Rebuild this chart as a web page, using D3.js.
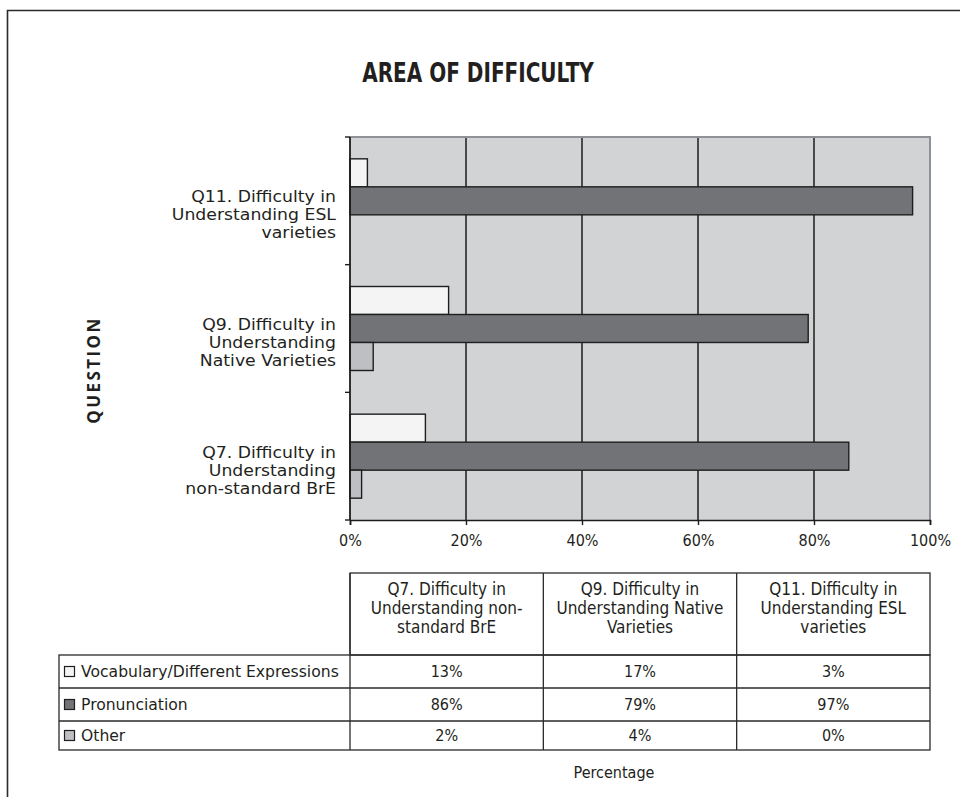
<!DOCTYPE html>
<html>
<head>
<meta charset="utf-8">
<script src="https://cdn.jsdelivr.net/npm/d3@7"></script>
<style>
  html, body { margin: 0; padding: 0; background: #ffffff; }
  svg { display: block; }
  .narrow { font-family: "Liberation Sans Narrow", "Arial Narrow", "DejaVu Sans Condensed", sans-serif; }
  .human { font-family: "DejaVu Sans", sans-serif; }
  .bold-human { font-family: "Open Sans", Lato, sans-serif; }
</style>
</head>
<body>
<svg id="chart" width="960" height="797"></svg>
<script>
// Questions, listed bottom-to-top as drawn on the chart (Q11 at top)
const questions = ["Q7", "Q9", "Q11"];
const axisLabelLines = {
  Q7: ["Q7. Difficulty in", "Understanding", "non-standard BrE"],
  Q9: ["Q9. Difficulty in", "Understanding", "Native Varieties"],
  Q11: ["Q11. Difficulty in", "Understanding ESL", "varieties"]
};
const headerLines = {
  Q7: ["Q7. Difficulty in", "Understanding non-", "standard BrE"],
  Q9: ["Q9. Difficulty in", "Understanding Native", "Varieties"],
  Q11: ["Q11. Difficulty in", "Understanding ESL", "varieties"]
};

// Percentages per question (Q7, Q9, Q11)
const seriesNames = ["Vocabulary/Different Expressions", "Pronunciation", "Other"];
const vocabulary = [13, 17, 3];
const pronunciation = [86, 79, 97];
const other = [2, 4, 0];
const seriesValues = [vocabulary, pronunciation, other];
const seriesColors = ["#f4f4f4", "#727377", "#bebfc3"];

const xTicks = [0, 20, 40, 60, 80, 100];

const svg = d3.select("#chart");

// outer frame
svg.append("path")
  .attr("d", "M7.5,1000 L7.5,10.5 L1000,10.5")
  .attr("fill", "none").attr("stroke", "#2a2a2a").attr("stroke-width", 1.6);

// title (condensed horizontally)
svg.append("text")
  .attr("class", "narrow")
  .attr("transform", "translate(478,82) scale(0.89,1.04)")
  .attr("text-anchor", "middle")
  .attr("font-weight", "bold")
  .attr("font-size", 25)
  .attr("fill", "#231f20")
  .text("AREA OF DIFFICULTY");

const plot = { left: 350, right: 930, top: 137, bottom: 520 };

const x = d3.scaleLinear().domain([0, 100]).range([plot.left, plot.right]);
const y = d3.scaleBand()
  .domain(questions.slice().reverse())
  .range([plot.top, plot.bottom])
  .paddingInner(0.342)
  .paddingOuter(0.171);
const ySub = d3.scaleBand().domain(d3.range(seriesNames.length)).range([0, y.bandwidth()]);

// plot background
svg.append("rect")
  .attr("x", plot.left).attr("y", plot.top)
  .attr("width", plot.right - plot.left).attr("height", plot.bottom - plot.top)
  .attr("fill", "#d2d3d5");

// vertical gridlines
svg.append("g").selectAll("line")
  .data(xTicks.filter(d => d > 0 && d < 100))
  .join("line")
  .attr("x1", d => x(d)).attr("x2", d => x(d))
  .attr("y1", plot.top).attr("y2", plot.bottom)
  .attr("stroke", "#1c1c1c").attr("stroke-width", 1.5);

// plot border (top / right)
svg.append("path")
  .attr("d", `M${plot.left},${plot.top} L${plot.right},${plot.top} L${plot.right},${plot.bottom}`)
  .attr("fill", "none").attr("stroke", "#8e9196").attr("stroke-width", 2);

// bars
const barData = [];
questions.forEach((q, qi) => {
  seriesValues.forEach((vals, si) => {
    barData.push({ q, si, v: vals[qi] });
  });
});
svg.append("g").selectAll("rect")
  .data(barData.filter(d => d.v > 0))
  .join("rect")
  .attr("x", x(0))
  .attr("y", d => y(d.q) + ySub(d.si))
  .attr("width", d => x(d.v) - x(0))
  .attr("height", ySub.bandwidth())
  .attr("fill", d => seriesColors[d.si])
  .attr("stroke", "#1e1e1e").attr("stroke-width", 1.4);

// x axis
const xAxis = svg.append("g")
  .attr("transform", `translate(0,${plot.bottom})`)
  .call(d3.axisBottom(x).tickValues(xTicks).tickFormat(d => d + "%").tickSize(5).tickPadding(10));
xAxis.select(".domain").attr("stroke", "#1c1c1c").attr("stroke-width", 1.6);
xAxis.selectAll(".tick line").attr("stroke", "#1c1c1c").attr("stroke-width", 1.4);
xAxis.selectAll(".tick text")
  .attr("class", "narrow")
  .attr("font-size", 16).attr("fill", "#231f20");

// y axis line and category-boundary ticks
svg.append("line")
  .attr("x1", plot.left).attr("x2", plot.left)
  .attr("y1", plot.top).attr("y2", plot.bottom)
  .attr("stroke", "#1c1c1c").attr("stroke-width", 1.8);
const boundaries = y.domain().map(q => y(q) - y.step() * y.paddingInner() / 2)
  .concat([plot.bottom]);
svg.append("g").selectAll("line")
  .data(boundaries)
  .join("line")
  .attr("x1", plot.left - 5).attr("x2", plot.left)
  .attr("y1", d => d).attr("y2", d => d)
  .attr("stroke", "#1c1c1c").attr("stroke-width", 1.4);

// category labels (right-aligned, three lines, slightly widened)
const catG = svg.append("g").attr("class", "human");
questions.forEach(q => {
  const lines = axisLabelLines[q];
  const cy = y(q) + y.bandwidth() / 2 + 14;
  const lh = 18;
  catG.append("text")
    .attr("transform", `translate(336,${cy}) scale(1.08,1)`)
    .attr("text-anchor", "end")
    .attr("font-size", 16)
    .attr("fill", "#231f20")
    .selectAll("tspan")
    .data(lines)
    .join("tspan")
    .attr("x", 0)
    .attr("y", (d, i) => (i - (lines.length - 1) / 2) * lh + 5.5)
    .text(d => d);
});

// axis title
svg.append("text")
  .attr("class", "bold-human")
  .attr("transform", "translate(100,370) rotate(-90)")
  .attr("text-anchor", "middle")
  .attr("font-weight", "bold")
  .attr("font-size", 17)
  .attr("letter-spacing", 2.4)
  .attr("fill", "#231f20")
  .text("QUESTION");

// data table
const table = { left: 59, top: 573, headerBottom: 655, rows: [655, 688, 721, 750] };
const colX = d3.scaleBand().domain(questions).range([plot.left, plot.right]);
const tg = svg.append("g");
const lineStyle = sel => sel.attr("stroke", "#2a2a2a").attr("stroke-width", 1.3);

// header box
tg.append("rect")
  .attr("x", plot.left).attr("y", table.top)
  .attr("width", plot.right - plot.left).attr("height", table.headerBottom - table.top)
  .attr("fill", "none").call(lineStyle);
// body box
tg.append("rect")
  .attr("x", table.left).attr("y", table.rows[0])
  .attr("width", plot.right - table.left).attr("height", table.rows[3] - table.rows[0])
  .attr("fill", "none").call(lineStyle);
// row separators
tg.selectAll("line.row")
  .data(table.rows.slice(1, 3))
  .join("line").attr("class", "row")
  .attr("x1", table.left).attr("x2", plot.right)
  .attr("y1", d => d).attr("y2", d => d)
  .call(lineStyle);
// column separators
tg.selectAll("line.col")
  .data(questions)
  .join("line").attr("class", "col")
  .attr("x1", d => colX(d)).attr("x2", d => colX(d))
  .attr("y1", table.top).attr("y2", table.rows[3])
  .call(lineStyle);

// header text
questions.forEach(q => {
  const cx = colX(q) + colX.bandwidth() / 2;
  tg.append("text")
    .attr("class", "narrow")
    .attr("text-anchor", "middle")
    .attr("font-size", 17)
    .attr("fill", "#231f20")
    .selectAll("tspan")
    .data(headerLines[q])
    .join("tspan")
    .attr("x", cx)
    .attr("y", (d, i) => 595 + i * 19)
    .text(d => d);
});

// body rows: legend key + values
seriesNames.forEach((name, si) => {
  const cy = (table.rows[si] + table.rows[si + 1]) / 2;
  tg.append("rect")
    .attr("x", 64.5).attr("y", cy - 5)
    .attr("width", 10).attr("height", 10)
    .attr("fill", seriesColors[si])
    .attr("stroke", "#1e1e1e").attr("stroke-width", 1.2);
  tg.append("text")
    .attr("class", "human")
    .attr("x", 81).attr("y", cy + 5.5)
    .attr("font-size", 15.6)
    .attr("fill", "#231f20")
    .text(name);
  questions.forEach((q, qi) => {
    tg.append("text")
      .attr("class", "narrow")
      .attr("x", colX(q) + colX.bandwidth() / 2)
      .attr("y", cy + 5.5)
      .attr("text-anchor", "middle")
      .attr("font-size", 16)
      .attr("fill", "#231f20")
      .text(seriesValues[si][qi] + "%");
  });
});

// value axis title
svg.append("text")
  .attr("class", "narrow")
  .attr("x", 614).attr("y", 778)
  .attr("text-anchor", "middle")
  .attr("font-size", 16)
  .attr("fill", "#231f20")
  .text("Percentage");
</script>
</body>
</html>
